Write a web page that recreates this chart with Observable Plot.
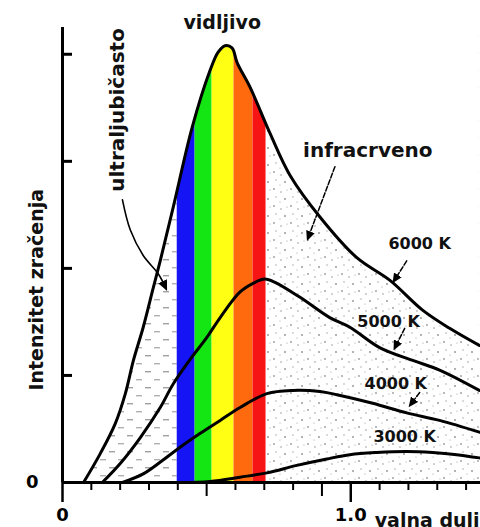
<!DOCTYPE html>
<html><head><meta charset="utf-8">
<script src="https://cdn.jsdelivr.net/npm/d3@7"></script>
<script src="https://cdn.jsdelivr.net/npm/@observablehq/plot@0.6"></script>
<style>
html,body{margin:0;padding:0;background:#fff;}
#chart svg{display:block;}
</style></head><body><div id="chart"></div>
<script>
// wavelength (µm) and relative intensity
const lam6000 = [0.073,0.131,0.183,0.218,0.246,0.280,0.315,0.339,0.384,0.450,0.512,0.540,0.564,0.588,0.606,0.651,0.720,0.789,0.893,1.021,1.135,1.249,1.343,1.446];
const int6000 = [0,0.27,0.55,0.83,1.14,1.45,1.82,2.07,2.57,3.32,3.85,4.02,4.08,4.06,3.92,3.69,3.26,2.87,2.48,2.10,1.89,1.61,1.44,1.28];
const lam5000 = [0.138,0.201,0.270,0.339,0.384,0.443,0.502,0.547,0.616,0.668,0.702,0.737,0.824,0.927,0.997,1.100,1.215,1.308,1.446];
const int5000 = [0,0.18,0.42,0.70,0.92,1.15,1.36,1.54,1.78,1.87,1.90,1.87,1.73,1.54,1.45,1.26,1.14,1.05,0.86];
const lam4000 = [0.208,0.280,0.349,0.408,0.478,0.547,0.616,0.709,0.799,0.893,0.952,1.076,1.194,1.308,1.446];
const int4000 = [0,0.08,0.21,0.33,0.46,0.58,0.70,0.83,0.86,0.85,0.82,0.74,0.65,0.58,0.47];
const lam3000 = [0.408,0.512,0.616,0.709,0.813,0.917,0.997,1.090,1.194,1.284,1.367,1.446];
const int3000 = [0,0.01,0.05,0.09,0.16,0.22,0.26,0.28,0.29,0.28,0.26,0.23];

// visible spectrum bands
const bandEdges = [0.398,0.460,0.519,0.595,0.661,0.706];
const bandColors = ["#1414f5","#14e614","#ffff14","#ff6a0e","#f71414"];

// axes
const yMax = 4.25, xMax = 1.45;
const yTicks = [1,2,3,4];
const xTicksShort = [0.1,0.2,0.3,0.4,0.6,0.7,0.8,1.1,1.2,1.3,1.4];
const xTicksMid = [0.5,0.9];
const xTicksLong = [0,1.0];

// annotation texts
const labelTexts = ["vidljivo","infracrveno","6000 K","5000 K","4000 K","3000 K"];
const labelLam = [0.554,1.059,1.239,1.131,1.156,1.187];
const labelInt = [4.29,3.10,2.23,1.50,0.925,0.43];
const labelSize = [19,20,16,16,16,16];
const rotTexts = ["ultraljubičasto","Intenzitet zračenja"];
const rotLam = [0.19,-0.09];
const rotInt = [3.48,1.80];
const rotSize = [20,19];
const xLabelText = "valna duljina", xLabelLam = 1.083, xLabelInt = -0.36;

// arrows (polyline points)
const arrowNames = ["uv","ir","k6000","k5000","k4000"];
const arrowLam = [[0.208,0.235,0.280,0.332,0.355],[0.945,0.854],[1.194,1.154],[1.187,1.156],[1.239,1.211]];
const arrowInt = [[2.64,2.36,2.12,1.95,1.835],[2.95,2.30],[2.07,1.90],[1.44,1.275],[0.84,0.74]];

const mk = (lam, val, T) => lam.map((l,i)=>({lam:l, I:val[i], T}));
const d6000 = mk(lam6000,int6000,6000);
const curves = [...d6000, ...mk(lam5000,int5000,5000), ...mk(lam4000,int4000,4000), ...mk(lam3000,int3000,3000)];
const bands = bandColors.map((c,i)=>({a:bandEdges[i], b:bandEdges[i+1], color:c}));
const labels = labelTexts.map((t,i)=>({t, lam:labelLam[i], I:labelInt[i], s:labelSize[i]}));
const rlabels = rotTexts.map((t,i)=>({t, lam:rotLam[i], I:rotInt[i], s:rotSize[i]}));
const arrows = arrowNames.flatMap((n,k)=>arrowLam[k].map((l,i)=>({n, lam:l, I:arrowInt[k][i]})));
const font = "DejaVu Sans";

const plot = Plot.plot({
  width: 480, height: 527,
  marginLeft: 62, marginRight: 0, marginTop: 27, marginBottom: 45,
  x: {domain: [0, xMax]},
  y: {domain: [0, yMax]},
  color: {type: "identity"},
  style: {fontFamily: font, background: "white", overflow: "visible"},
  marks: [
    Plot.rect([0], {x1: lam6000[0], x2: bandEdges[0], y1: 0, y2: yMax, fill: "url(#uvPat)"}),
    Plot.rect(bands, {x1: "a", x2: "b", y1: 0, y2: yMax, fill: "color"}),
    Plot.rect([0], {x1: bandEdges[bandEdges.length-1], x2: lam6000[lam6000.length-1], y1: 0, y2: yMax, fill: "url(#irPat)"}),
    Plot.areaY(d6000, {x: "lam", y1: "I", y2: yMax, fill: "white", curve: "catmull-rom"}),
    Plot.line(curves, {x: "lam", y: "I", z: "T", stroke: "black", strokeWidth: 3, curve: "catmull-rom"}),
    Plot.ruleX([0], {y1: 0, y2: yMax, stroke: "black", strokeWidth: 3}),
    Plot.ruleY([0], {stroke: "black", strokeWidth: 3}),
    Plot.axisY({ticks: yTicks, tickSize: -10, tickFormat: () => "", strokeWidth: 3, label: null}),
    Plot.axisY({ticks: [0], tickSize: 0, tickPadding: 24, fontSize: 18, fontWeight: "bold", tickFormat: d => String(d), label: null}),
    Plot.axisX({ticks: xTicksShort, tickSize: 8, tickFormat: () => "", strokeWidth: 2, label: null}),
    Plot.axisX({ticks: xTicksMid, tickSize: 14, tickFormat: () => "", strokeWidth: 2, label: null}),
    Plot.axisX({ticks: xTicksLong, tickSize: 20, tickPadding: 6, strokeWidth: 2.5, fontSize: 18, fontWeight: "bold", tickFormat: d => d === 0 ? "0" : d3.format(".1f")(d), label: null}),
    Plot.text([xLabelText], {x: xLabelLam, y: xLabelInt, text: d => d, textAnchor: "start", fontSize: 19, fontWeight: "bold", fill: "#111"}),
    Plot.text(labels, {x: "lam", y: "I", text: "t", fontSize: d => d.s, fontWeight: "bold", fill: "#111"}),
    Plot.text(rlabels, {x: "lam", y: "I", text: "t", fontSize: d => d.s, rotate: -90, fontWeight: "bold", fill: "#111"}),
    Plot.line(arrows.filter(d => d.n === "uv"), {x: "lam", y: "I", stroke: "black", strokeWidth: 1.6, markerEnd: "arrow", curve: "catmull-rom"}),
    Plot.line(arrows.filter(d => d.n !== "uv"), {x: "lam", y: "I", z: "n", stroke: "black", strokeWidth: 1.5, strokeDasharray: "5,2", markerEnd: "arrow"})
  ]
});

const svg = d3.select(plot);
const defs = svg.insert("defs", ":first-child");
const uv = defs.append("pattern").attr("id", "uvPat").attr("patternUnits", "userSpaceOnUse").attr("width", 18).attr("height", 16);
uv.append("rect").attr("x", 1).attr("y", 3).attr("width", 6).attr("height", 1.4).attr("fill", "#a0a0a0");
uv.append("rect").attr("x", 10).attr("y", 11).attr("width", 6).attr("height", 1.4).attr("fill", "#b0b0b0");
const ir = defs.append("pattern").attr("id", "irPat").attr("patternUnits", "userSpaceOnUse").attr("width", 17).attr("height", 17);
[[2,2,0.9],[9,5,0.8],[4,10,0.7],[13,12,1.0],[15,3,0.6],[8,15,0.6]].forEach(([cx,cy,r]) =>
  ir.append("circle").attr("cx", cx).attr("cy", cy).attr("r", r).attr("fill", "#999"));
svg.selectAll("marker").attr("fill", "#000").attr("stroke", "none")
  .selectAll("path").attr("d", "M-5,-4.5L5,0L-5,4.5Z").attr("stroke", "none");

document.getElementById("chart").appendChild(plot);
</script></body></html>
